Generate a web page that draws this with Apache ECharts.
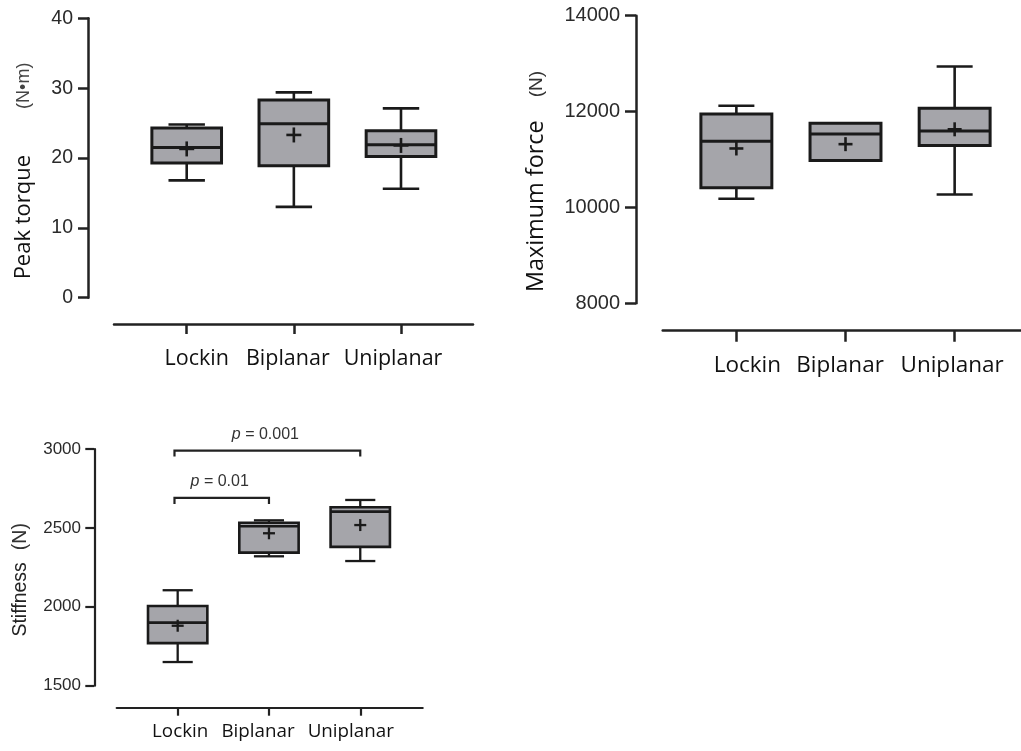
<!DOCTYPE html>
<html>
<head>
<meta charset="utf-8">
<style>
  html, body { margin: 0; padding: 0; background: #ffffff; }
  #chart { width: 1021px; height: 751px; }
</style>
<script src="https://cdn.jsdelivr.net/npm/echarts@6/dist/echarts.min.js"></script>
</head>
<body>
<div id="chart"></div>
<script>
// ---------- DATA ----------
const categories = ['Lockin', 'Biplanar', 'Uniplanar'];

// Peak torque (N•m)
const torqueMin    = [16.8, 13.0, 15.6];
const torqueQ1     = [19.3, 18.9, 20.2];
const torqueMedian = [21.5, 24.9, 21.9];
const torqueQ3     = [24.3, 28.3, 23.9];
const torqueMax    = [24.8, 29.4, 27.1];
const torqueMean   = [21.3, 23.3, 21.8];
const torqueTicks  = [0, 40, 10];   // min, max, interval

// Maximum force (N)
const forceMin    = [10180, 10980, 10270];
const forceQ1     = [10410, 10980, 11290];
const forceMedian = [11380, 11530, 11595];
const forceQ3     = [11950, 11755, 12070];
const forceMax    = [12120, 11755, 12940];
const forceMean   = [11230, 11320, 11630];
const forceTicks  = [8000, 14000, 2000];

// Stiffness (N)
const stiffMin    = [1650, 2320, 2290];
const stiffQ1     = [1770, 2343, 2380];
const stiffMedian = [1900, 2510, 2603];
const stiffQ3     = [2005, 2533, 2631];
const stiffMax    = [2105, 2548, 2677];
const stiffMean   = [1880, 2466, 2518];
const stiffTicks  = [1500, 3000, 500];

// Significance brackets (stiffness panel)
const bracketFrom   = [-0.035, -0.035];
const bracketTo     = [2, 1];
const bracketLevel  = [2990, 2690];
const bracketPValue = ['0.001', '0.01'];

// ---------- BUILD ----------
function boxData(mn, q1, med, q3, mx, mean) {
  return categories.map((c, i) => [i, mn[i], q1[i], med[i], q3[i], mx[i], mean[i]]);
}

const INK = '#1a1a1a';
const FILL = '#a5a5aa';

function boxRenderer(st) {
  return function (params, api) {
    const x = api.value(0);
    const pMin = api.coord([x, api.value(1)]);
    const pQ1 = api.coord([x, api.value(2)]);
    const pMed = api.coord([x, api.value(3)]);
    const pQ3 = api.coord([x, api.value(4)]);
    const pMax = api.coord([x, api.value(5)]);
    const pMean = api.coord([x, api.value(6)]);
    const bw = api.size([st.boxWidth, 0])[0];
    const cw = api.size([st.capWidth, 0])[0];
    const cx = pMed[0];
    const wl = { stroke: INK, lineWidth: st.whisker };
    const h = st.cross / 2;
    return {
      type: 'group',
      children: [
        { type: 'line', shape: { x1: cx, y1: pQ3[1], x2: cx, y2: pMax[1] }, style: wl },
        { type: 'line', shape: { x1: cx - cw / 2, y1: pMax[1], x2: cx + cw / 2, y2: pMax[1] }, style: wl },
        { type: 'line', shape: { x1: cx, y1: pQ1[1], x2: cx, y2: pMin[1] }, style: wl },
        { type: 'line', shape: { x1: cx - cw / 2, y1: pMin[1], x2: cx + cw / 2, y2: pMin[1] }, style: wl },
        { type: 'rect', shape: { x: cx - bw / 2, y: pQ3[1], width: bw, height: pQ1[1] - pQ3[1] },
          style: { fill: FILL, stroke: INK, lineWidth: st.box } },
        { type: 'line', shape: { x1: cx - bw / 2, y1: pMed[1], x2: cx + bw / 2, y2: pMed[1] },
          style: { stroke: INK, lineWidth: st.box } },
        { type: 'line', shape: { x1: pMean[0] - h, y1: pMean[1], x2: pMean[0] + h, y2: pMean[1] },
          style: { stroke: INK, lineWidth: st.crossWidth } },
        { type: 'line', shape: { x1: pMean[0], y1: pMean[1] - h, x2: pMean[0], y2: pMean[1] + h },
          style: { stroke: INK, lineWidth: st.crossWidth } }
      ]
    };
  };
}

function bracketRenderer(params, api) {
  const a = api.coord([api.value(0), api.value(2)]);
  const b = api.coord([api.value(1), api.value(2)]);
  const drop = 6;
  return {
    type: 'group',
    children: [
      { type: 'polyline', shape: { points: [[a[0], a[1] + drop], [a[0], a[1]], [b[0], b[1]], [b[0], b[1] + drop]] },
        style: { stroke: '#222', lineWidth: 2.2, fill: null } },
      { type: 'text', x: (a[0] + b[0]) / 2 - 2, y: a[1] - 16,
        style: {
          text: '{i|p} = ' + bracketPValue[params.dataIndex],
          fill: '#333', fontSize: 16, fontFamily: 'Liberation Sans',
          align: 'center', verticalAlign: 'middle',
          rich: { i: { fontStyle: 'italic', fontSize: 16, fontFamily: 'Liberation Sans', fill: '#333' } }
        } }
    ]
  };
}

function catLabelRich(size, pads) {
  const r = {};
  pads.forEach((p, i) => {
    r['c' + i] = { fontFamily: 'Open Sans', fontSize: size, color: '#111', padding: p };
  });
  return r;
}

function xAxisCfg(gi, min, max, offset, tickLen, margin, size, pads, lw) {
  return {
    gridIndex: gi, type: 'value', min: min, max: max, offset: offset,
    axisLine: { show: true, onZero: false, lineStyle: { color: '#222', width: lw } },
    axisTick: { show: true, customValues: [0, 1, 2], length: tickLen, lineStyle: { color: '#222', width: lw } },
    axisLabel: {
      show: true, customValues: [0, 1, 2], margin: margin,
      formatter: v => { const i = Math.round(v); return '{c' + i + '|' + categories[i] + '}'; },
      rich: catLabelRich(size, pads)
    },
    splitLine: { show: false }
  };
}

function yAxisCfg(gi, ticks, offset, tickLen, margin, size, lw, name, nameGap, nameStyle) {
  return {
    gridIndex: gi, type: 'value', min: ticks[0], max: ticks[1], interval: ticks[2], offset: offset,
    axisLine: { show: true, onZero: false, lineStyle: { color: '#222', width: lw } },
    axisTick: { show: true, length: tickLen, lineStyle: { color: '#222', width: lw } },
    axisLabel: { margin: margin, fontFamily: 'Liberation Sans', fontSize: size, color: '#2a2a2a',
      formatter: v => String(v) },
    splitLine: { show: false },
    name: name, nameLocation: 'middle', nameRotate: 90, nameGap: nameGap,
    nameTextStyle: nameStyle
  };
}

const option = {
  backgroundColor: '#ffffff',
  animation: false,
  grid: [
    { left: 114, top: 18.3, width: 359, height: 279.4 },
    { left: 662.7, top: 15.7, width: 360, height: 287.6 },
    { left: 116.7, top: 449, width: 306, height: 236.7 }
  ],
  xAxis: [
    xAxisCfg(0, -0.6785, 2.672, 26.3, 10, 24, 21.5, [[0, 0, 0, 20], [0, 12, 0, 0], [0, 16, 0, 0]], 2.5),
    xAxisCfg(1, -0.675, 2.608, 27.4, 11, 23, 22.5, [[0, 0, 0, 22], [0, 11, 0, 0], [0, 5, 0, 0]], 2.5),
    xAxisCfg(2, -0.668, 2.684, 22, 8, 14, 18.8, [[0, 0, 0, 5], [0, 22, 0, 0], [0, 19, 0, 0]], 2.2)
  ],
  yAxis: [
    yAxisCfg(0, torqueTicks, 26, 10, 15, 19.5, 2.5, '{a|Peak torque}{b|(N•m)}', 53, {
      padding: [0, 26, 0, 0],
      rich: {
        a: { fontFamily: 'Open Sans', fontSize: 22, color: '#111' },
        b: { fontFamily: 'Liberation Sans', fontSize: 18, color: '#444', padding: [0, 0, 0, 46] }
      }
    }),
    yAxisCfg(1, forceTicks, 26.7, 11, 16, 20, 2.5, '{a|Maximum force}{b|(N)}', 88, {
      padding: [0, 44, 0, 0],
      rich: {
        a: { fontFamily: 'Open Sans', fontSize: 23.4, color: '#111' },
        b: { fontFamily: 'Liberation Sans', fontSize: 19, color: '#333', padding: [0, 0, 0, 23] }
      }
    }),
    yAxisCfg(2, stiffTicks, 22.4, 9, 13.3, 17, 2.2, '{a|Stiffness}{b|(N)}', 64, {
      padding: [0, 25, 0, 0],
      rich: {
        a: { fontFamily: 'Liberation Sans', fontSize: 19.5, color: '#222' },
        b: { fontFamily: 'Liberation Sans', fontSize: 19.5, color: '#333', padding: [0, 0, 0, 12] }
      }
    })
  ],
  series: [
    {
      type: 'custom', xAxisIndex: 0, yAxisIndex: 0,
      renderItem: boxRenderer({ boxWidth: 0.65, capWidth: 0.34, box: 3, whisker: 2.6, cross: 15, crossWidth: 2.6 }),
      encode: { x: 0, y: [1, 2, 3, 4, 5, 6] },
      data: boxData(torqueMin, torqueQ1, torqueMedian, torqueQ3, torqueMax, torqueMean)
    },
    {
      type: 'custom', xAxisIndex: 1, yAxisIndex: 1,
      renderItem: boxRenderer({ boxWidth: 0.65, capWidth: 0.33, box: 3, whisker: 2.6, cross: 14, crossWidth: 2.6 }),
      encode: { x: 0, y: [1, 2, 3, 4, 5, 6] },
      data: boxData(forceMin, forceQ1, forceMedian, forceQ3, forceMax, forceMean)
    },
    {
      type: 'custom', xAxisIndex: 2, yAxisIndex: 2,
      renderItem: boxRenderer({ boxWidth: 0.65, capWidth: 0.33, box: 2.6, whisker: 2.3, cross: 12, crossWidth: 2.3 }),
      encode: { x: 0, y: [1, 2, 3, 4, 5, 6] },
      data: boxData(stiffMin, stiffQ1, stiffMedian, stiffQ3, stiffMax, stiffMean)
    },
    {
      type: 'custom', xAxisIndex: 2, yAxisIndex: 2,
      renderItem: bracketRenderer,
      encode: { x: [0, 1], y: 2 },
      data: bracketFrom.map((f, i) => [f, bracketTo[i], bracketLevel[i]])
    }
  ]
};

const chart = echarts.init(document.getElementById('chart'), null, { renderer: 'canvas' });
chart.setOption(option);
</script>
</body>
</html>
